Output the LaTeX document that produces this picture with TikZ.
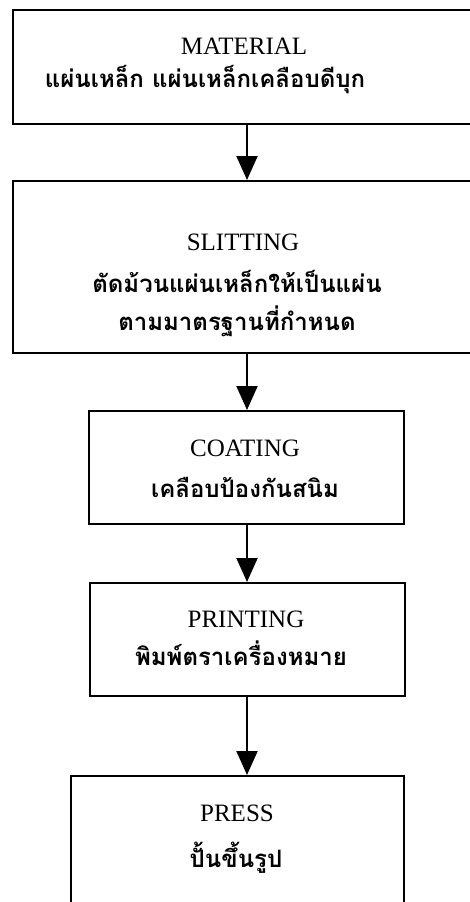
\documentclass[tikz,border=0pt]{standalone}
\usepackage{fontspec}
\setmainfont{Liberation Serif}
\newfontfamily\thaifont[Script=Thai]{Loma}
\usetikzlibrary{arrows.meta}
\begin{document}
\begin{tikzpicture}[x=1pt,y=-1pt,
  boxstyle/.style={draw,line width=2pt,inner sep=0pt,anchor=north west},
  entxt/.style={font=\fontsize{25}{25}\selectfont,inner sep=0pt,anchor=base},
  thtxt/.style={font=\thaifont\bfseries\fontsize{24}{24}\selectfont,inner sep=0pt,anchor=base},
  flow/.style={line width=2pt,-{Triangle[length=24pt,width=21pt]}}]
\useasboundingbox (0,0) rectangle (470,902);
\clip (0,0) rectangle (470,902);
% boxes
\node[boxstyle,minimum width=466pt,minimum height=114pt] (b1) at (12,9) {};
\node[boxstyle,minimum width=466pt,minimum height=172pt] (b2) at (12,180) {};
\node[boxstyle,minimum width=315pt,minimum height=113pt] (b3) at (88,410) {};
\node[boxstyle,minimum width=315pt,minimum height=113pt] (b4) at (89,582) {};
\node[boxstyle,minimum width=333pt,minimum height=140pt] (b5) at (70,775) {};
% texts
\node[entxt] (t1a) at (244,54) {MATERIAL};
\node[thtxt] (t1b) at (205,87) {แผ่นเหล็ก แผ่นเหล็กเคลือบดีบุก};
\node[entxt] (t2a) at (243,250) {SLITTING};
\node[thtxt] (t2b) at (237,292) {ตัดม้วนแผ่นเหล็กให้เป็นแผ่น};
\node[thtxt] (t2c) at (237,330) {ตามมาตรฐานที่กำหนด};
\node[entxt] (t3a) at (245,456) {COATING};
\node[thtxt] (t3b) at (245,497) {เคลือบป้องกันสนิม};
\node[entxt] (t4a) at (246,627) {PRINTING};
\node[thtxt] (t4b) at (241,665) {พิมพ์ตราเครื่องหมาย};
\node[entxt] (t5a) at (237,821) {PRESS};
\node[thtxt] (t5b) at (236,867) {ปั้นขึ้นรูป};
% connectors
\coordinate (a1s) at (247,123);
\coordinate (a1e) at (247,180);
\coordinate (a2s) at (247,352);
\coordinate (a2e) at (247,410);
\coordinate (a3s) at (247,523);
\coordinate (a3e) at (247,582);
\coordinate (a4s) at (247,695);
\coordinate (a4e) at (247,775);
\draw[flow] (a1s) -- (a1e);
\draw[flow] (a2s) -- (a2e);
\draw[flow] (a3s) -- (a3e);
\draw[flow] (a4s) -- (a4e);
\end{tikzpicture}
\end{document}
